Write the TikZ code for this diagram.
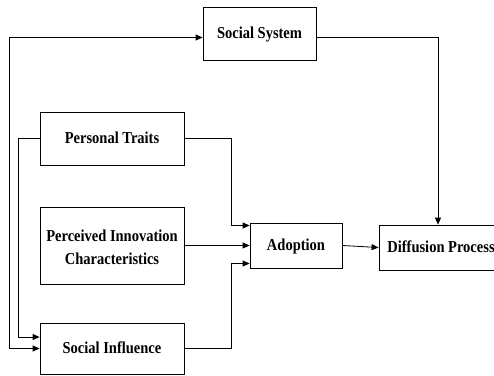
\documentclass[tikz,border=0pt]{standalone}
\usepackage{fontspec}
\setmainfont{Liberation Serif}
\usetikzlibrary{arrows.meta}
\newcommand{\vstext}[1]{\scalebox{1}[1.15]{\begin{tabular}{@{}c@{}}#1\end{tabular}}}
\begin{document}
\begin{tikzpicture}[x=1pt,y=-1pt,
  box/.style={draw, line width=0.8pt, align=center, inner sep=0pt, font=\bfseries\fontsize{14.5}{20}\selectfont},
  conn/.style={line width=0.8pt, -{Triangle[length=7pt,width=6pt]}},
  biconn/.style={line width=0.8pt, {Triangle[length=7pt,width=6pt]}-{Triangle[length=7pt,width=6pt]}}]
\clip (0,0) rectangle (494,375);
\useasboundingbox (0,0) rectangle (494,375);
\node[box, minimum width=113pt, minimum height=53pt] (SS) at (259.5,33.5) {\vstext{Social System}};
\node[box, minimum width=144pt, minimum height=53pt] (PT) at (112,138.5) {\vstext{Personal Traits}};
\node[box, minimum width=144pt, minimum height=77pt] (PIC) at (112,245.5) {\raisebox{-3pt}[\height][\depth]{\vstext{Perceived Innovation\\Characteristics}}};
\node[box, minimum width=144pt, minimum height=51pt] (SI) at (112,348.5) {\vstext{Social Influence}};
\node[box, minimum width=92pt, minimum height=45pt] (A) at (296,245.5) {\vstext{Adoption}};
\node[box, minimum width=124pt, minimum height=45pt] (DP) at (441,247.5) {\vstext{Diffusion Process}};
\coordinate (lc) at (9,0);
\coordinate (ic) at (18,0);
% outer loop between Social Influence and Social System
\draw[biconn] (SI.west) -- (SI.west -| lc) |- ([yshift=-4pt]SS.west);
% Personal Traits to Social Influence
\draw[conn] (PT.west) -- (PT.west -| ic) |- ([yshift=11.5pt]SI.west);
% Social System to Diffusion Process
\draw[conn] ([yshift=-4pt]SS.east) -| ([xshift=-3pt]DP.north);
% into Adoption
\draw[conn] (PT.east) -- ++(47,0) |- ([yshift=20pt]A.west);
\draw[conn] (PIC.east) -- (A.west);
\draw[conn] (SI.east) -- ++(47,0) |- ([yshift=-18pt]A.west);
\draw[conn] (A.east) -- (DP.west);
\end{tikzpicture}
\end{document}
